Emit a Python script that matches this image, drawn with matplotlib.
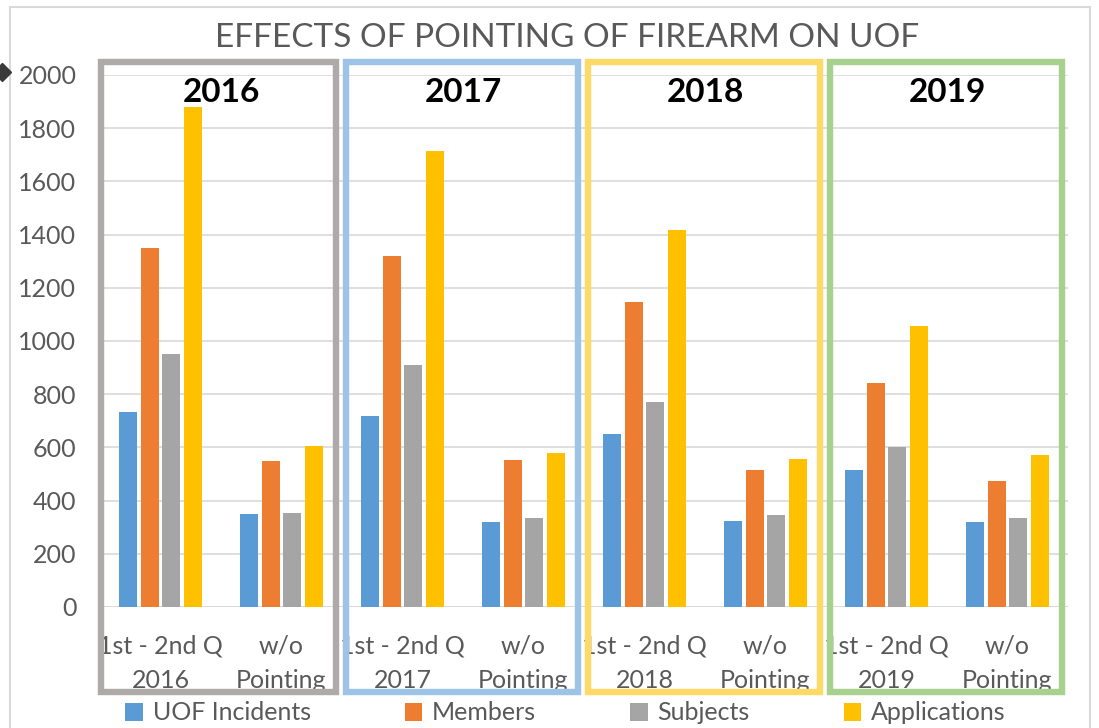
import numpy as np
import matplotlib
matplotlib.use("Agg")
import matplotlib.pyplot as plt
from matplotlib.patches import Rectangle

plt.rcParams['font.family'] = ['Lato', 'DejaVu Sans']

# dados
anos = ['2016', '2017', '2018', '2019']
categorias = ['1st - 2nd Q\n2016', 'w/o\nPointing',
              '1st - 2nd Q\n2017', 'w/o\nPointing',
              '1st - 2nd Q\n2018', 'w/o\nPointing',
              '1st - 2nd Q\n2019', 'w/o\nPointing']
series = ['UOF Incidents', 'Members', 'Subjects', 'Applications']
uof_incidents = [732, 348, 718, 320, 650, 325, 515, 320]
members = [1348, 548, 1320, 552, 1148, 515, 843, 475]
subjects = [953, 352, 910, 335, 770, 345, 600, 335]
applications = [1878, 605, 1714, 580, 1418, 555, 1055, 572]
valores = [uof_incidents, members, subjects, applications]

cores = ['#5B9BD5', '#ED7D31', '#A5A5A5', '#FFC000']
cores_caixas = ['#AEAAAA', '#9DC3E6', '#FFD966', '#A9D18E']
cinza_texto = '#595959'

fig = plt.figure(figsize=(10.99, 7.28), dpi=100)
W, H = 1099, 728
ax = fig.add_axes([100 / W, 1 - 607 / H, (1068 - 100) / W, (607 - 75) / H])

x = np.arange(len(categorias))
largura = 0.145
passo = 0.178
for i, (nome, vals, cor) in enumerate(zip(series, valores, cores)):
    ax.bar(x + (i - 1.5) * passo, vals, largura, color=cor, label=nome, zorder=2)

ax.set_xlim(-0.5, len(categorias) - 0.5)
ax.set_ylim(0, 2000)
ax.set_yticks(np.arange(0, 2001, 200))
ax.yaxis.grid(True, color='#D9D9D9', linewidth=1.2, zorder=0)
ax.set_axisbelow(True)
for s in ax.spines.values():
    s.set_visible(False)
ax.tick_params(axis='both', length=0, labelsize=18, labelcolor=cinza_texto)
ax.tick_params(axis='y', pad=17)
ax.set_xticks(x)
ax.set_xticklabels(categorias, linespacing=1.6)
ax.tick_params(axis='x', pad=20)
ax.axhline(0, color='#D9D9D9', linewidth=1.2, zorder=1)

# caixas coloridas por ano
for k, (ano, cor) in enumerate(zip(anos, cores_caixas)):
    x0 = 2 * k - 0.49 + 0.02 * (k > 0)
    x1 = 2 * k + 1.45
    ax.add_patch(Rectangle((x0, -318), x1 - x0, 2048 + 318, fill=False,
                           edgecolor=cor, linewidth=4.6, clip_on=False, zorder=3))
    ax.text(2 * k + 0.5, 1935, ano, ha='center', va='center', fontsize=24,
            fontweight='bold', color='black', zorder=4)

fig.text(0.5 * (218 + 916) / W, 1 - 38 / H, 'EFFECTS OF POINTING OF FIREARM ON UOF',
         ha='center', va='center', fontsize=24, color=cinza_texto)

leg = fig.legend(loc='center', bbox_to_anchor=(0.5 * (117 + 1014) / W, 1 - 713 / H),
                 ncol=4, frameon=False, fontsize=18, handlelength=0.7,
                 handleheight=0.7, handletextpad=0.4, columnspacing=3.75)
for t in leg.get_texts():
    t.set_color(cinza_texto)

# borda externa do gráfico
fig.add_artist(Rectangle((10 / W, -0.01), 1080 / W, 1 - 7 / H + 0.01,
                         transform=fig.transFigure, fill=False,
                         edgecolor='#D9D9D9', linewidth=1.5))
fig.add_artist(plt.Line2D([2 / W], [1 - 72 / H], marker='D', markersize=9,
                          color='#3A3A3A', transform=fig.transFigure))

fig.savefig('out.png', dpi=100)
